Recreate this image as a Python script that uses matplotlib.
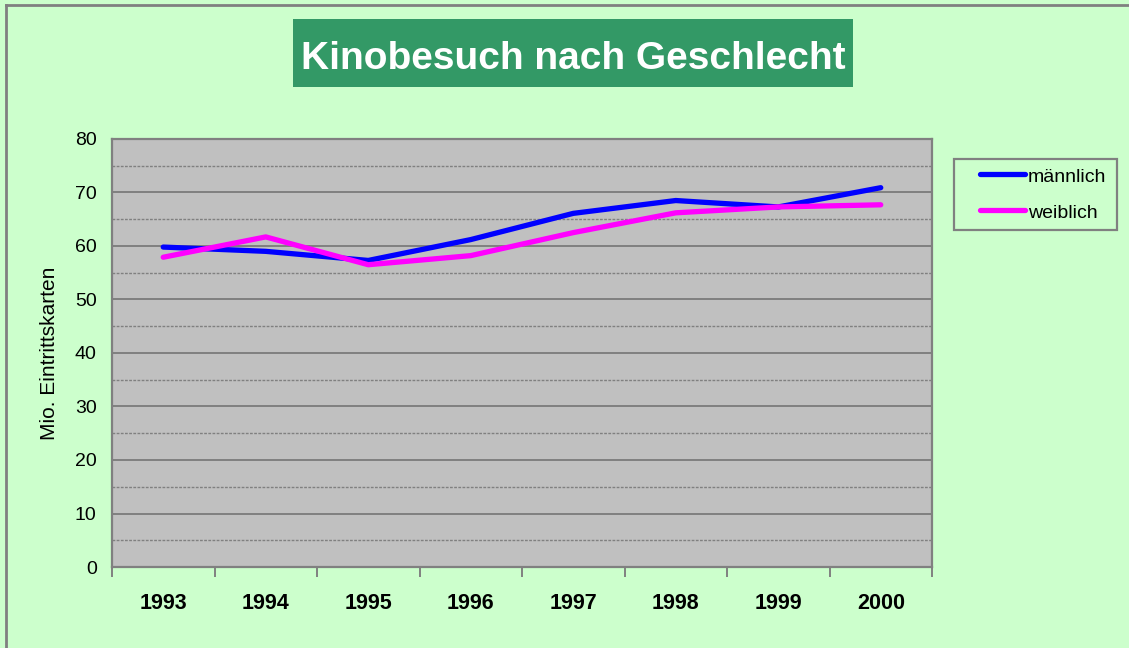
import matplotlib
matplotlib.use("Agg")
import matplotlib.pyplot as plt
from matplotlib.patches import Rectangle
from matplotlib.lines import Line2D
from matplotlib.ticker import MultipleLocator, FixedLocator

plt.rcParams['font.family'] = ['Liberation Sans', 'DejaVu Sans']

years = ["1993", "1994", "1995", "1996", "1997", "1998", "1999", "2000"]
maennlich = [59.8, 59.0, 57.3, 61.2, 66.1, 68.5, 67.3, 70.9]
weiblich = [57.9, 61.7, 56.5, 58.2, 62.5, 66.2, 67.3, 67.7]
series_names = ["männlich", "weiblich"]
series_colors = ["#0000FF", "#FF00FF"]
title = "Kinobesuch nach Geschlecht"
ylabel = "Mio. Eintrittskarten"

W, H = 1129, 648
fig = plt.figure(figsize=(W / 100, H / 100), dpi=100)
fig.patch.set_facecolor("#CCFFCC")

def fx(px):
    return px / W

def fy(py):
    return 1 - py / H

# figure border (top and left)
fig.add_artist(Line2D([fx(6), fx(6)], [0, fy(5)], transform=fig.transFigure, color="#808080", lw=2))
fig.add_artist(Line2D([fx(6), 1], [fy(5), fy(5)], transform=fig.transFigure, color="#808080", lw=2))

# title box
fig.add_artist(Rectangle((fx(293), fy(87)), fx(853 - 293), (87 - 19) / H,
                         transform=fig.transFigure, facecolor="#339966", edgecolor="none"))
fig.text(fx((293 + 853) / 2), fy(69), title, color="white", fontsize=28, fontweight="bold",
         ha="center", va="baseline")

ax = fig.add_axes([fx(112), (H - 567) / H, fx(820), 428 / H])
ax.set_facecolor("#C0C0C0")
x = list(range(len(years)))
lines = []
for vals, c in zip([maennlich, weiblich], series_colors):
    l, = ax.plot(x, vals, color=c, lw=3.8, solid_capstyle="round", solid_joinstyle="round", zorder=3)
    lines.append(l)

ax.set_xlim(-0.5, len(years) - 0.5)
ax.set_ylim(0, 80)
ax.yaxis.set_major_locator(MultipleLocator(10))
ax.yaxis.set_minor_locator(MultipleLocator(5))
ax.grid(axis="y", which="major", color="#808080", lw=1.4, ls="-", zorder=1)
ax.grid(axis="y", which="minor", color="#808080", lw=1.0, ls=(0, (2, 1)), zorder=1)
ax.tick_params(axis="y", which="major", length=0, labelsize=14, pad=11)
ax.tick_params(axis="y", which="minor", length=0)

ax.xaxis.set_major_locator(FixedLocator([i - 0.5 for i in range(len(years) + 1)]))
ax.xaxis.set_minor_locator(FixedLocator(x))
ax.set_xticklabels([""] * (len(years) + 1))
ax.set_xticklabels(years, minor=True)
ax.tick_params(axis="x", which="major", length=7, width=1.4, color="#808080", direction="out")
ax.tick_params(axis="x", which="minor", length=0, labelsize=15.5, pad=19)
for t in ax.get_xticklabels(minor=True):
    t.set_fontweight("bold")

for s in ax.spines.values():
    s.set_color("#808080")
    s.set_linewidth(1.6)

fig.text(fx(50), fy(353), ylabel, rotation=90, fontsize=15, ha="center", va="center")

# legend (drawn manually to match the boxed layout)
fig.add_artist(Rectangle((fx(954), fy(230)), fx(1117 - 954), (230 - 159) / H,
                         transform=fig.transFigure, facecolor="#CCFFCC", edgecolor="#808080", lw=1.6))
for i, (name, c) in enumerate(zip(series_names, series_colors)):
    yy = 174 + 36 * i
    fig.add_artist(Line2D([fx(980), fx(1025)], [fy(yy), fy(yy)], transform=fig.transFigure,
                          color=c, lw=3.8, solid_capstyle="round"))
    fig.text(fx(1028), fy(yy + 3), name, fontsize=14, ha="left", va="center")

fig.savefig("out.png", dpi=100, facecolor=fig.get_facecolor())
